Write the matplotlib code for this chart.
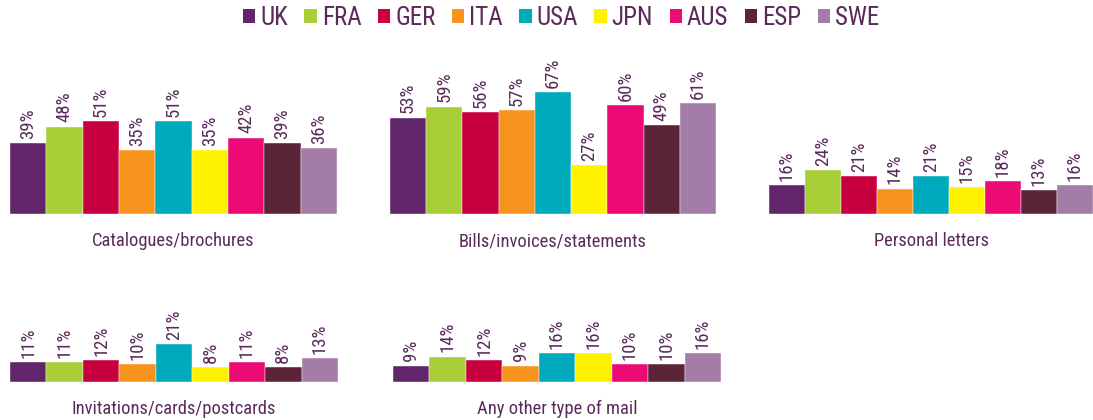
import matplotlib
matplotlib.use("Agg")
import matplotlib.pyplot as plt
from matplotlib.patches import Patch
from matplotlib import font_manager

# pick a condensed sans if one is installed
installed = set(f.name for f in font_manager.fontManager.ttflist)
family = 'DejaVu Sans'
for cand in ['Liberation Sans Narrow', 'Arial Narrow', 'Roboto Condensed',
             'Archivo Narrow', 'Asap Condensed', 'Liberation Sans']:
    if cand in installed:
        family = cand
        break
plt.rcParams['font.family'] = [family, 'DejaVu Sans']

countries = ['UK', 'FRA', 'GER', 'ITA', 'USA', 'JPN', 'AUS', 'ESP', 'SWE']
colors = ['#62246a', '#a9cf38', '#c8003f', '#f7941e', '#00aabd',
          '#fff200', '#ec0a75', '#5b2439', '#a47ca8']
text_color = '#5a2a5a'

catalogues = [39, 48, 51, 35, 51, 35, 42, 39, 36]
bills = [53, 59, 56, 57, 67, 27, 60, 49, 61]
personal = [16, 24, 21, 14, 21, 15, 18, 13, 16]
invitations = [11, 11, 12, 10, 21, 8, 11, 8, 13]
other = [9, 14, 12, 9, 16, 16, 10, 10, 16]

panels = [
    ('Catalogues/brochures', catalogues),
    ('Bills/invoices/statements', bills),
    ('Personal letters', personal),
    ('Invitations/cards/postcards', invitations),
    ('Any other type of mail', other),
]

W, H = 1093, 420
fig = plt.figure(figsize=(W / 100, H / 100), dpi=100)

# pixel boxes: left, right, baseline, top
boxes = [
    (10, 337, 214, 40),
    (390, 716, 214, 40),
    (769, 1093, 214, 40),
    (10, 338, 382, 300),
    (393, 721, 382, 300),
]
px_per_pct = 1.82

for (title, vals), (l, r, base, top) in zip(panels, boxes):
    ax = fig.add_axes([l / W, (H - base) / H, (r - l) / W, (base - top) / H])
    ax.bar(range(len(vals)), vals, width=1.0, color=colors,
           edgecolor='white', linewidth=0.3)
    ax.set_xlim(-0.5, len(vals) - 0.5)
    ax.set_ylim(0, (base - top) / px_per_pct)
    for i, v in enumerate(vals):
        ax.annotate('%d%%' % v, xy=(i, v), xytext=(0, 3), textcoords='offset points',
                    rotation=90, ha='center', va='bottom', fontsize=13.5,
                    color=text_color, annotation_clip=False)
    ax.annotate(title, xy=(0.5, 0), xycoords='axes fraction', xytext=(0, -27),
                textcoords='offset pixels', ha='center', va='center',
                fontsize=13.3, color=text_color)
    ax.axis('off')

handles = [Patch(facecolor=c, edgecolor='none', label=n) for c, n in zip(colors, countries)]
leg = fig.legend(handles=handles, loc='center', bbox_to_anchor=(561 / W, 1 - 18 / H), ncol=9,
                 frameon=False, fontsize=18, handlelength=0.5, handleheight=0.5,
                 handletextpad=0.2, columnspacing=0.65)
for t in leg.get_texts():
    t.set_color(text_color)

fig.savefig('out.png', dpi=100)
